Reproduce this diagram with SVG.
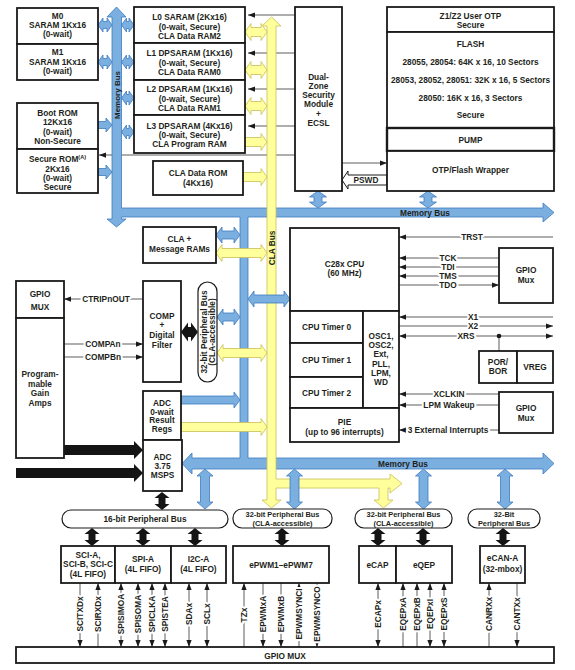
<svg xmlns="http://www.w3.org/2000/svg" width="575" height="670" viewBox="0 0 575 670">
<defs>
<marker id="a" viewBox="0 0 8 6" refX="8" refY="3" markerWidth="7" markerHeight="5.5" markerUnits="userSpaceOnUse" orient="auto-start-reverse"><path d="M0,0L8,3L0,6Z" fill="#1a1a1a"/></marker>
</defs>
<style>
.t{font-family:"Liberation Sans",Arial,Helvetica,sans-serif;font-size:8.3px;font-weight:bold;fill:#231f20;text-anchor:middle}
.sm{font-size:7.4px}
.h{paint-order:stroke;stroke:#fff;stroke-width:4px;stroke-linejoin:round}
.b{fill:#fff;stroke:#1a1a1a;stroke-width:1.8}
.p{fill:#fff;stroke:#1a1a1a;stroke-width:1.2}
.bl{fill:#7aafe0;stroke:#3d7bc0;stroke-width:0.8}
.yl{fill:#ffff9c;stroke:#c9bf57;stroke-width:0.8}
.bk{fill:#141414}
.w{fill:none;stroke:#333;stroke-width:0.8}
.e{fill:none;stroke:#333;stroke-width:0.8;marker-end:url(#a)}
.d{fill:none;stroke:#333;stroke-width:0.8;marker-start:url(#a);marker-end:url(#a)}
</style>
<rect width="575" height="670" fill="#fff"/>
<g id="connectors">
<line class="e" x1="295" y1="15" x2="248" y2="15"/>
<line class="e" x1="295" y1="53" x2="248" y2="53"/>
<line class="e" x1="295" y1="89" x2="248" y2="89"/>
<line class="e" x1="295" y1="126" x2="248" y2="126"/>
<line class="e" x1="295" y1="155" x2="99" y2="155"/>
<line class="e" x1="342" y1="163" x2="387" y2="163"/>
<polygon class="bl" points="116.5,7 126,17 121.5,17 121.5,208 543,208 543,203 554,212.5 543,222 543,217 248,217 248,458 543,458 543,453 554,463.5 543,474 543,469 192,469 192,474 182,463.5 192,453 192,458 240,458 240,217 121.5,217 121.5,219 126,219 116.5,227 107,219 112,219 112,17 107,17"/>
<text class="t" transform="translate(116.5,95) rotate(-90)" y="3" style="font-size:8px">Memory Bus</text>
<text class="t" x="425" y="216">Memory Bus</text>
<text class="t" x="403" y="467">Memory Bus</text>
<polygon class="bl" points="98,25 103,18 103,21.5 107,21.5 107,18 112,25 107,32 107,28.5 103,28.5 103,32"/>
<polygon class="bl" points="98,62 103,55 103,58.5 107,58.5 107,55 112,62 107,69 107,65.5 103,65.5 103,69"/>
<polygon class="bl" points="98,121.5 106,121.5 106,118 112,125 106,132 106,128.5 98,128.5"/>
<polygon class="bl" points="98,168.5 106,168.5 106,165 112,172 106,179 106,175.5 98,175.5"/>
<polygon class="bl" points="121.5,25 126.5,18 126.5,21.5 129,21.5 129,18 134,25 129,32 129,28.5 126.5,28.5 126.5,32"/>
<polygon class="bl" points="121.5,62 126.5,55 126.5,58.5 129,58.5 129,55 134,62 129,69 129,65.5 126.5,65.5 126.5,69"/>
<polygon class="bl" points="121.5,98 126.5,91 126.5,94.5 129,94.5 129,91 134,98 129,105 129,101.5 126.5,101.5 126.5,105"/>
<polygon class="bl" points="121.5,132 126.5,125 126.5,128.5 129,128.5 129,125 134,132 129,139 129,135.5 126.5,135.5 126.5,139"/>
<polygon class="bl" points="318,191 326.5,197 322,197 322,202 326.5,202 318,208 309.5,202 314,202 314,197 309.5,197"/>
<polygon class="bl" points="428,191 436.5,197 432,197 432,202 436.5,202 428,208 419.5,202 424,202 424,197 419.5,197"/>
<polygon class="bl" points="216,235 222,227 222,231 234,231 234,227 240,235 234,243 234,239 222,239 222,243"/>
<polygon class="bl" points="217,317 223,309 223,313 234,313 234,309 240,317 234,325 234,321 223,321 223,325"/>
<polygon class="bl" points="181,396 234,396 234,392 240,400 234,408 234,404 181,404"/>
<polygon class="bl" points="205,469 213,476 209.5,476 209.5,502 213,502 205,509 197,502 200.5,502 200.5,476 197,476"/>
<polygon class="bl" points="423.5,469 431.5,476 428,476 428,502 431.5,502 423.5,509 415.5,502 419,502 419,476 415.5,476"/>
<polygon class="bl" points="505,469 513,476 509.5,476 509.5,502 513,502 505,509 497,502 500.5,502 500.5,476 497,476"/>
<polygon class="yl" points="271.5,17 281,26 276,26 276,479 390,479 390,474 402,483.5 390,493 390,488 388,488 388,500 393,500 383.5,508 374,500 379,500 379,488 276,488 276,500 281,500 271.5,508 262,500 267,500 267,26 262,26"/>
<text class="t" transform="translate(271.5,248) rotate(-90)" y="3">CLA Bus</text>
<polygon class="yl" points="245,32 251,23.5 251,27.5 261,27.5 261,23.5 267,32 261,40.5 261,36.5 251,36.5 251,40.5"/>
<polygon class="yl" points="245,70 251,61.5 251,65.5 261,65.5 261,61.5 267,70 261,78.5 261,74.5 251,74.5 251,78.5"/>
<polygon class="yl" points="245,106 251,97.5 251,101.5 261,101.5 261,97.5 267,106 261,114.5 261,110.5 251,110.5 251,114.5"/>
<polygon class="yl" points="245,137.5 261,137.5 261,133.5 267,142 261,150.5 261,146.5 245,146.5"/>
<polygon class="yl" points="243,172.5 261,172.5 261,168.5 267,177 261,185.5 261,181.5 243,181.5"/>
<polygon class="yl" points="216,253 222,244.5 222,248.5 261,248.5 261,244.5 267,253 261,261.5 261,257.5 222,257.5 222,261.5"/>
<polygon class="yl" points="217,353 223,344.5 223,348.5 261,348.5 261,344.5 267,353 261,361.5 261,357.5 223,357.5 223,361.5"/>
<polygon class="yl" points="181,422.5 261,422.5 261,418.5 267,427 261,435.5 261,431.5 181,431.5"/>
<polygon class="bl" points="248,299 254,291 254,295 284,295 284,291 290,299 284,307 284,303 254,303 254,307"/>
<polygon class="bl" points="294.5,469 302.5,476 299,476 299,502 302.5,502 294.5,509 286.5,502 290,502 290,476 286.5,476"/>
<polygon points="342,180 348,171 348,175 387,175 387,185 348,185 348,189" fill="#fff" stroke="#1a1a1a" stroke-width="1"/>
<text class="t" x="366" y="183">PSWD</text>
<polygon class="bk" points="181,332 188,322.5 188,327 191,327 191,322.5 198,332 191,341.5 191,337 188,337 188,341.5"/>
<polygon class="bk" points="162,492 169.5,498 165.5,498 165.5,504 169.5,504 162,510 154.5,504 158.5,504 158.5,498 154.5,498"/>
<polygon class="bk" points="64,445 134,445 134,441 143,450 134,459 134,455 64,455"/>
<polygon class="bk" points="16,468 134,468 134,464 143,473 134,482 134,478 16,478"/>
<polygon class="bk" points="92,528 99.5,534 95.5,534 95.5,540 99.5,540 92,546 84.5,540 88.5,540 88.5,534 84.5,534"/>
<polygon class="bk" points="143,528 150.5,534 146.5,534 146.5,540 150.5,540 143,546 135.5,540 139.5,540 139.5,534 135.5,534"/>
<polygon class="bk" points="195,528 202.5,534 198.5,534 198.5,540 202.5,540 195,546 187.5,540 191.5,540 191.5,534 187.5,534"/>
<polygon class="bk" points="282,528 289.5,534 285.5,534 285.5,540 289.5,540 282,546 274.5,540 278.5,540 278.5,534 274.5,534"/>
<polygon class="bk" points="378,528 385.5,534 381.5,534 381.5,540 385.5,540 378,546 370.5,540 374.5,540 374.5,534 370.5,534"/>
<polygon class="bk" points="423,528 430.5,534 426.5,534 426.5,540 430.5,540 423,546 415.5,540 419.5,540 419.5,534 415.5,534"/>
<polygon class="bk" points="503,528 510.5,534 506.5,534 506.5,540 510.5,540 503,546 495.5,540 499.5,540 499.5,534 495.5,534"/>
<line class="e" x1="143" y1="299" x2="64" y2="299"/>
<text class="t h" x="106" y="302">CTRIPnOUT</text>
<line class="e" x1="64" y1="344" x2="143" y2="344"/>
<text class="t h" x="103" y="347">COMPAn</text>
<line class="e" x1="64" y1="357" x2="143" y2="357"/>
<text class="t h" x="103" y="360">COMPBn</text>
<line class="e" x1="553" y1="237" x2="399" y2="237"/>
<text class="t h" x="472" y="240">TRST</text>
<line class="e" x1="499" y1="258" x2="399" y2="258"/>
<line class="e" x1="499" y1="267" x2="399" y2="267"/>
<line class="e" x1="499" y1="276" x2="399" y2="276"/>
<line class="e" x1="399" y1="285" x2="499" y2="285"/>
<text class="t h" x="448" y="261">TCK</text>
<text class="t h" x="448" y="270">TDI</text>
<text class="t h" x="448" y="279">TMS</text>
<text class="t h" x="448" y="288">TDO</text>
<line class="e" x1="553" y1="317" x2="399" y2="317"/>
<line class="e" x1="399" y1="326" x2="553" y2="326"/>
<line class="d" x1="399" y1="336" x2="553" y2="336"/>
<line class="w" x1="499" y1="336" x2="499" y2="351"/>
<circle cx="499" cy="336" r="2.3" fill="#1a1a1a"/>
<text class="t h" x="473" y="320">X1</text>
<text class="t h" x="473" y="329">X2</text>
<text class="t h" x="466" y="339">XRS</text>
<line class="e" x1="499" y1="394" x2="399" y2="394"/>
<line class="e" x1="499" y1="405" x2="399" y2="405"/>
<line class="e" x1="499" y1="430" x2="399" y2="430"/>
<text class="t h" x="449" y="397">XCLKIN</text>
<text class="t h" x="449" y="408">LPM Wakeup</text>
<text class="t h" x="448" y="433">3 External Interrupts</text>
<line class="e" x1="80" y1="583" x2="80" y2="647"/>
<line class="e" x1="98" y1="647" x2="98" y2="583"/>
<line class="d" x1="121" y1="583" x2="121" y2="647"/>
<line class="d" x1="138" y1="583" x2="138" y2="647"/>
<line class="d" x1="152" y1="583" x2="152" y2="647"/>
<line class="d" x1="165" y1="583" x2="165" y2="647"/>
<line class="d" x1="189" y1="583" x2="189" y2="647"/>
<line class="d" x1="207" y1="583" x2="207" y2="647"/>
<line class="e" x1="244" y1="647" x2="244" y2="583"/>
<line class="e" x1="263" y1="583" x2="263" y2="647"/>
<line class="e" x1="281" y1="583" x2="281" y2="647"/>
<line class="e" x1="299" y1="647" x2="299" y2="583"/>
<line class="e" x1="317" y1="583" x2="317" y2="647"/>
<line class="d" x1="378" y1="583" x2="378" y2="647"/>
<line class="e" x1="403" y1="647" x2="403" y2="583"/>
<line class="e" x1="417" y1="647" x2="417" y2="583"/>
<line class="d" x1="430" y1="583" x2="430" y2="647"/>
<line class="d" x1="444" y1="583" x2="444" y2="647"/>
<line class="e" x1="489" y1="647" x2="489" y2="583"/>
<line class="e" x1="517" y1="583" x2="517" y2="647"/>
<text class="t h" transform="translate(80,614) rotate(-90)" y="3">SCITXDx</text>
<text class="t h" transform="translate(98,614) rotate(-90)" y="3">SCIRXDx</text>
<text class="t h" transform="translate(121,614) rotate(-90)" y="3">SPISIMOA</text>
<text class="t h" transform="translate(138,614) rotate(-90)" y="3">SPISOMA</text>
<text class="t h" transform="translate(152,614) rotate(-90)" y="3">SPICLKA</text>
<text class="t h" transform="translate(165,614) rotate(-90)" y="3">SPISTEA</text>
<text class="t h" transform="translate(189,614) rotate(-90)" y="3">SDAx</text>
<text class="t h" transform="translate(207,614) rotate(-90)" y="3">SCLx</text>
<text class="t h" transform="translate(244,615) rotate(-90)" y="3">TZx</text>
<text class="t h" transform="translate(263,614) rotate(-90)" y="3">EPWMxA</text>
<text class="t h" transform="translate(281,614) rotate(-90)" y="3">EPWMxB</text>
<text class="t h" transform="translate(299,614) rotate(-90)" y="3">EPWMSYNCI</text>
<text class="t h" transform="translate(317,614) rotate(-90)" y="3">EPWMSYNCO</text>
<text class="t h" transform="translate(378,614) rotate(-90)" y="3">ECAPx</text>
<text class="t h" transform="translate(403,614) rotate(-90)" y="3">EQEPxA</text>
<text class="t h" transform="translate(417,614) rotate(-90)" y="3">EQEPxB</text>
<text class="t h" transform="translate(430,614) rotate(-90)" y="3">EQEPxI</text>
<text class="t h" transform="translate(444,614) rotate(-90)" y="3">EQEPxS</text>
<text class="t h" transform="translate(489,614) rotate(-90)" y="3">CANRXx</text>
<text class="t h" transform="translate(517,614) rotate(-90)" y="3">CANTXx</text>
</g>
<g id="m0"><rect class="b" x="17" y="8" width="81" height="36"/><text class="t" x="57.5" y="19">M0</text><text class="t" x="57.5" y="28">SARAM 1Kx16</text><text class="t" x="57.5" y="37">(0-wait)</text></g>
<g id="m1"><rect class="b" x="17" y="44" width="81" height="36"/><text class="t" x="57.5" y="55">M1</text><text class="t" x="57.5" y="64.5">SARAM 1Kx16</text><text class="t" x="57.5" y="74">(0-wait)</text></g>
<g id="bootrom"><rect class="b" x="17" y="103" width="81" height="46"/><text class="t" x="57.5" y="116">Boot ROM</text><text class="t" x="57.5" y="125.3">12Kx16</text><text class="t" x="57.5" y="134.6">(0-wait)</text><text class="t" x="57.5" y="144">Non-Secure</text></g>
<g id="securerom"><rect class="b" x="17" y="149" width="81" height="44"/><text class="t" x="57.5" y="162">Secure ROM<tspan font-size="5.5" dy="-3">(A)</tspan></text><text class="t" x="57.5" y="171.5">2Kx16</text><text class="t" x="57.5" y="181">(0-wait)</text><text class="t" x="57.5" y="190">Secure</text></g>
<g id="l0"><rect class="b" x="134" y="7" width="111" height="36"/><text class="t" x="189.5" y="20">L0 SARAM (2Kx16)</text><text class="t" x="189.5" y="29.5">(0-wait, Secure)</text><text class="t" x="189.5" y="39">CLA Data RAM2</text></g>
<g id="l1"><rect class="b" x="134" y="43" width="111" height="37"/><text class="t" x="189.5" y="56">L1 DPSARAM (1Kx16)</text><text class="t" x="189.5" y="65.5">(0-wait, Secure)</text><text class="t" x="189.5" y="75">CLA Data RAM0</text></g>
<g id="l2"><rect class="b" x="134" y="80" width="111" height="35"/><text class="t" x="189.5" y="92">L2 DPSARAM (1Kx16)</text><text class="t" x="189.5" y="101.5">(0-wait, Secure)</text><text class="t" x="189.5" y="111">CLA Data RAM1</text></g>
<g id="l3"><rect class="b" x="134" y="115" width="111" height="38"/><text class="t" x="189.5" y="129">L3 DPSARAM (4Kx16)</text><text class="t" x="189.5" y="138">(0-wait, Secure)</text><text class="t" x="189.5" y="147">CLA Program RAM</text></g>
<g id="cladatarom"><rect class="b" x="153" y="161" width="90" height="34"/><text class="t" x="198" y="176">CLA Data ROM</text><text class="t" x="198" y="186">(4Kx16)</text></g>
<g id="dcsm"><rect class="b" x="295" y="7" width="47" height="184"/><text class="t" x="318.5" y="79.5">Dual-</text><text class="t" x="318.5" y="88.8">Zone</text><text class="t" x="318.5" y="98.1">Security</text><text class="t" x="318.5" y="107.4">Module</text><text class="t" x="318.5" y="116.7">+</text><text class="t" x="318.5" y="126">ECSL</text></g>
<g id="flash">
<rect class="b" x="387" y="7" width="167" height="25"/><text class="t" x="470.5" y="19">Z1/Z2 User OTP</text><text class="t" x="470.5" y="28">Secure</text>
<rect class="b" x="387" y="32" width="167" height="96"/><text class="t" x="470.5" y="47">FLASH</text><text class="t" x="470.5" y="65">28055, 28054: 64K x 16, 10 Sectors</text><text class="t" x="470.5" y="83">28053, 28052, 28051: 32K x 16, 5 Sectors</text><text class="t" x="470.5" y="101">28050: 16K x 16, 3 Sectors</text><text class="t" x="470.5" y="118">Secure</text>
<rect class="b" x="387" y="128" width="167" height="23" style="stroke-width:2.4"/><text class="t" x="470.5" y="143">PUMP</text>
<rect class="b" x="387" y="151" width="167" height="40"/><text class="t" x="470.5" y="173">OTP/Flash Wrapper</text>
</g>
<g id="clamsg"><rect class="b" x="143" y="227" width="73" height="36"/><text class="t" x="179.5" y="242">CLA +</text><text class="t" x="179.5" y="252">Message RAMs</text></g>
<g id="comp"><rect class="b" x="143" y="281" width="38" height="101"/><text class="t" x="162" y="318.5">COMP</text><text class="t" x="162" y="328">+</text><text class="t" x="162" y="338">Digital</text><text class="t" x="162" y="348">Filter</text></g>
<g id="pbus32v"><rect class="p" x="198" y="282" width="19" height="100" rx="9.5"/><text class="t" transform="translate(207.5,332) rotate(-90)" y="-0.5">32-bit Peripheral Bus</text><text class="t" transform="translate(207.5,332) rotate(-90)" y="7.5">(CLA-accessible)</text></g>
<g id="adcregs"><rect class="b" x="143" y="391" width="38" height="49"/><text class="t" x="162" y="406">ADC</text><text class="t" x="162" y="414.5">0-wait</text><text class="t" x="162" y="423">Result</text><text class="t" x="162" y="431.5">Regs</text></g>
<g id="adc"><rect class="b" x="143" y="440" width="39" height="51"/><text class="t" x="162.5" y="460">ADC</text><text class="t" x="162.5" y="469">3.75</text><text class="t" x="162.5" y="478">MSPS</text></g>
<g id="gpiomux-left"><rect class="b" x="16" y="281" width="48" height="37"/><text class="t" x="40" y="297">GPIO</text><text class="t" x="40" y="310">MUX</text></g>
<g id="pga"><rect class="b" x="16" y="318" width="48" height="140"/><text class="t" x="40" y="377">Program-</text><text class="t" x="40" y="386.5">mable</text><text class="t" x="40" y="396">Gain</text><text class="t" x="40" y="405.5">Amps</text></g>
<g id="cpu"><rect class="b" x="290" y="228" width="109" height="83"/><text class="t" x="344.5" y="267">C28x CPU</text><text class="t" x="344.5" y="276">(60 MHz)</text></g>
<g id="timer0"><rect class="b" x="290" y="311" width="73" height="32"/><text class="t" x="326.5" y="330">CPU Timer 0</text></g>
<g id="timer1"><rect class="b" x="290" y="343" width="73" height="34"/><text class="t" x="326.5" y="363">CPU Timer 1</text></g>
<g id="timer2"><rect class="b" x="290" y="377" width="73" height="31"/><text class="t" x="326.5" y="396">CPU Timer 2</text></g>
<g id="osc"><rect class="b" x="363" y="311" width="36" height="97"/><text class="t" x="381" y="339">OSC1,</text><text class="t" x="381" y="348">OSC2,</text><text class="t" x="381" y="357">Ext,</text><text class="t" x="381" y="367">PLL,</text><text class="t" x="381" y="376">LPM,</text><text class="t" x="381" y="385">WD</text></g>
<g id="pie"><rect class="b" x="290" y="408" width="109" height="34"/><text class="t" x="344.5" y="425">PIE</text><text class="t" x="344.5" y="435">(up to 96 interrupts)</text></g>
<g id="gpiomux1"><rect class="b" x="499" y="248" width="54" height="55"/><text class="t" x="526" y="273">GPIO</text><text class="t" x="526" y="283">Mux</text></g>
<g id="porbor"><rect class="b" x="479" y="351" width="38" height="32"/><text class="t" x="498" y="365">POR/</text><text class="t" x="498" y="374">BOR</text></g>
<g id="vreg"><rect class="b" x="517" y="351" width="36" height="32"/><text class="t" x="535" y="370">VREG</text></g>
<g id="gpiomux2"><rect class="b" x="499" y="392" width="54" height="41"/><text class="t" x="526" y="411">GPIO</text><text class="t" x="526" y="421">Mux</text></g>
<g id="pbus16"><rect class="p" x="62" y="510" width="166" height="18" rx="9"/><text class="t" x="145" y="522">16-bit Peripheral Bus</text></g>
<g id="pbus32a"><rect class="p" x="233" y="509" width="99" height="19" rx="9"/><text class="t sm" x="282.5" y="517">32-bit Peripheral Bus</text><text class="t sm" x="282.5" y="525.5">(CLA-accessible)</text></g>
<g id="pbus32b"><rect class="p" x="355" y="509" width="97" height="19" rx="9"/><text class="t sm" x="403.5" y="517">32-bit Peripheral Bus</text><text class="t sm" x="403.5" y="525.5">(CLA-accessible)</text></g>
<g id="pbus32c"><rect class="p" x="468" y="509" width="72" height="19" rx="9"/><text class="t sm" x="504" y="517">32-Bit</text><text class="t sm" x="504" y="525.5">Peripheral Bus</text></g>
<g id="sci"><rect class="b" x="61" y="546" width="54" height="37"/><text class="t" x="88" y="557.5">SCI-A,</text><text class="t" x="88" y="567">SCI-B, SCI-C</text><text class="t" x="88" y="576.5">(4L FIFO)</text></g>
<g id="spi"><rect class="b" x="115" y="546" width="56" height="37"/><text class="t" x="143" y="562">SPI-A</text><text class="t" x="143" y="572">(4L FIFO)</text></g>
<g id="i2c"><rect class="b" x="171" y="546" width="55" height="37"/><text class="t" x="198.5" y="562">I2C-A</text><text class="t" x="198.5" y="572">(4L FIFO)</text></g>
<g id="epwm"><rect class="b" x="233" y="546" width="96" height="37"/><text class="t" x="281" y="568">ePWM1–ePWM7</text></g>
<g id="ecap"><rect class="b" x="359" y="546" width="37" height="37"/><text class="t" x="377.5" y="568">eCAP</text></g>
<g id="eqep"><rect class="b" x="396" y="546" width="56" height="37"/><text class="t" x="424" y="568">eQEP</text></g>
<g id="ecan"><rect class="b" x="480" y="546" width="45" height="37"/><text class="t" x="502.5" y="561">eCAN-A</text><text class="t" x="502.5" y="572">(32-mbox)</text></g>
<g id="gpiomux-bottom"><rect class="b" x="16" y="647" width="538" height="16"/><text class="t" x="285" y="659">GPIO MUX</text></g>
</svg>
